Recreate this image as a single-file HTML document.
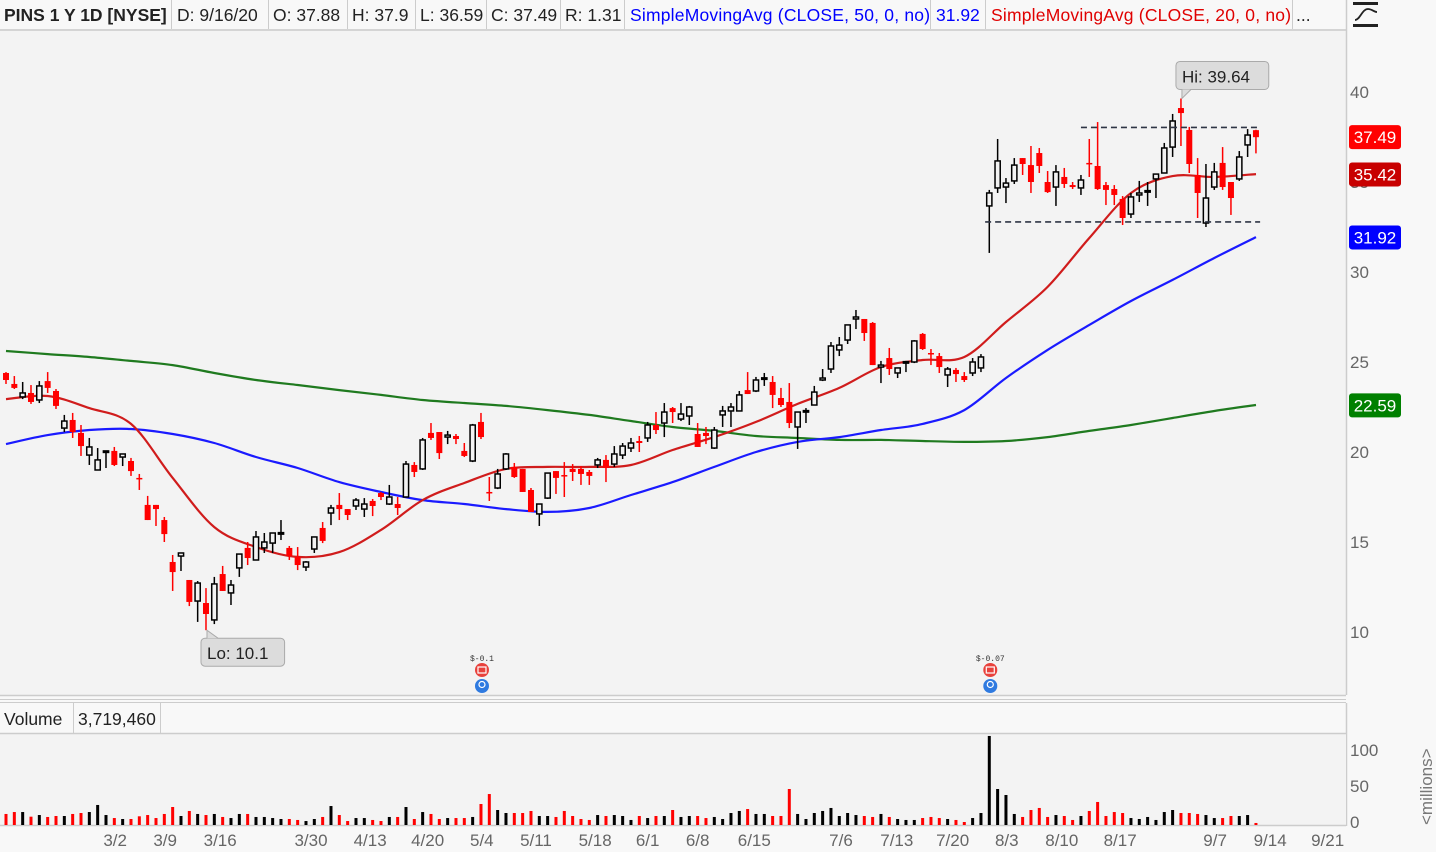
<!DOCTYPE html>
<html><head><meta charset="utf-8">
<style>
html,body{margin:0;padding:0;background:#f8f8f8;}
body{width:1436px;height:852px;overflow:hidden;position:relative;font-family:"Liberation Sans",sans-serif;}
.hd{position:absolute;top:5px;font-size:17.5px;color:#222;white-space:nowrap;}
.sep{position:absolute;top:0;width:1px;height:29px;background:#ccc;}
svg{position:absolute;left:0;top:0;}
</style></head>
<body>
<div style="position:absolute;left:0;top:0;width:1346px;height:29px;background:#f8f8f8;border-bottom:2px solid #d4d4d4;"></div>
<div class="hd" style="left:4px;font-weight:bold;">PINS 1 Y 1D [NYSE]</div>
<div class="sep" style="left:171px"></div>
<div class="hd" style="left:177px;">D: 9/16/20</div>
<div class="sep" style="left:268px"></div>
<div class="hd" style="left:273px;">O: 37.88</div>
<div class="sep" style="left:347px"></div>
<div class="hd" style="left:352px;">H: 37.9</div>
<div class="sep" style="left:415px"></div>
<div class="hd" style="left:420px;">L: 36.59</div>
<div class="sep" style="left:486px"></div>
<div class="hd" style="left:491px;">C: 37.49</div>
<div class="sep" style="left:560px"></div>
<div class="hd" style="left:565px;">R: 1.31</div>
<div class="sep" style="left:624px"></div>
<div class="hd" style="left:630px;color:#0000ff;letter-spacing:0.2px;">SimpleMovingAvg (CLOSE, 50, 0, no)</div>
<div class="sep" style="left:930px"></div>
<div class="hd" style="left:936px;color:#0000ff;">31.92</div>
<div class="sep" style="left:985px"></div>
<div class="hd" style="left:991px;color:#e00000;letter-spacing:0.2px;">SimpleMovingAvg (CLOSE, 20, 0, no)</div>
<div class="sep" style="left:1292px"></div>
<div class="hd" style="left:1296px;">...</div>

<svg id="chart" width="1436" height="852" xmlns="http://www.w3.org/2000/svg">
  <rect x="0" y="31" width="1346" height="664" fill="#f3f3f3"/>
  <line x1="1346.5" y1="0" x2="1346.5" y2="695" stroke="#ccc" stroke-width="1.5"/>
  <line x1="0" y1="695.5" x2="1346" y2="695.5" stroke="#ccc" stroke-width="1.5"/>
  <line x1="0" y1="699.5" x2="1346" y2="699.5" stroke="#ccc" stroke-width="1"/>
  <line x1="0" y1="702.5" x2="1346" y2="702.5" stroke="#ccc" stroke-width="1"/>
  <line x1="1346.5" y1="703" x2="1346.5" y2="826" stroke="#ccc" stroke-width="1.5"/>
  <rect x="0" y="733" width="1346" height="92" fill="#f3f3f3"/>
  <line x1="0" y1="733.5" x2="1346" y2="733.5" stroke="#ccc" stroke-width="1.5"/>
  <line x1="0" y1="825.5" x2="1346" y2="825.5" stroke="#ccc" stroke-width="1.5"/>
  <line x1="73.5" y1="703" x2="73.5" y2="733" stroke="#ccc"/>
  <line x1="160.5" y1="703" x2="160.5" y2="733" stroke="#ccc"/>
  <text x="4" y="725" font-size="17.5" fill="#222">Volume</text>
  <text x="78" y="725" font-size="17.5" fill="#222">3,719,460</text>
  <g>
    <rect x="1353" y="2" width="25" height="3" fill="#222"/>
    <rect x="1353" y="24" width="25" height="3" fill="#222"/>
    <path d="M1355 20 C1360 20,1362 9,1368 9 C1372 9,1374 12,1377 12" stroke="#222" stroke-width="1.8" fill="none"/>
  </g>
  <text x="1432" y="825" font-size="17" fill="#777" transform="rotate(-90 1432 825)">&lt;millions&gt;</text>
  <g id="axes"></g>
  <g id="ma"></g>
  <g id="candles"></g>
  <g id="vol"></g>
  <g id="overlay"></g>
  <rect x="1348" y="829" width="60" height="23" fill="#f8f8f8"/>
</svg>
<script>
const opens=[24.39,23.78,23.06,23.28,22.89,23.94,23.39,21.33,21.78,21.06,
19.83,19.0,20.0,20.06,19.72,19.5,18.56,17.06,17.06,16.22,
13.89,14.22,12.89,11.72,11.61,10.67,13.22,12.17,13.56,14.67,
14.0,14.67,14.94,15.5,14.67,14.17,13.61,14.61,15.78,16.61,
17.06,16.83,17.0,16.83,17.28,17.72,17.11,17.11,17.5,19.28,
19.06,21.06,21.11,20.83,20.89,20.06,19.5,21.67,17.78,18.0,
19.06,19.17,19.06,17.89,16.56,17.44,18.94,18.72,19.06,19.06,
18.89,19.28,19.56,19.33,19.83,20.22,20.61,20.78,21.5,21.61,
22.44,21.83,22.0,21.0,21.06,20.22,22.06,22.28,22.28,23.44,
23.39,24.11,23.89,23.0,22.78,21.39,22.28,22.61,24.0,24.61,
25.67,26.22,27.39,27.39,27.17,24.72,25.22,24.39,25.0,25.0,
26.56,25.5,25.33,24.28,24.56,24.22,24.39,24.67,33.67,34.67,
34.72,35.06,36.33,35.94,36.61,35.0,34.72,35.28,34.83,34.67,
36.06,35.89,34.83,34.61,34.06,33.22,34.28,34.5,35.17,35.5,
36.94,39.11,37.89,35.39,32.72,34.72,36.06,35.0,35.17,37.06,37.88];
const highs=[24.44,24.22,23.89,23.72,23.94,24.44,23.5,22.06,22.17,21.5,
20.78,20.22,20.06,20.28,19.89,19.67,18.78,17.56,17.06,16.39,
14.28,14.39,12.89,12.83,12.44,13.06,13.67,12.89,14.33,15.0,
15.61,15.5,15.5,16.22,14.78,14.72,13.94,15.28,16.11,17.06,
17.72,16.83,17.44,17.44,17.39,17.78,18.17,17.5,19.5,19.44,
20.78,21.61,21.11,21.17,21.0,20.5,21.56,22.17,18.61,19.06,
19.94,19.39,19.06,18.0,17.11,18.83,18.94,19.44,19.33,19.22,
19.0,19.67,19.83,20.33,20.5,20.78,20.89,21.67,22.22,22.72,
22.5,22.72,22.56,21.61,21.39,21.39,22.56,22.72,23.39,24.44,
24.17,24.39,24.22,23.56,23.83,22.22,22.44,23.67,24.61,26.11,
26.39,27.06,27.89,27.39,27.22,25.06,25.78,24.67,25.06,26.22,
26.61,25.72,25.5,24.72,24.67,24.44,25.22,25.44,34.56,37.39,
35.22,36.33,36.33,37.0,36.89,35.61,35.94,35.78,35.0,35.39,
37.39,38.33,35.0,34.83,34.22,34.39,35.06,35.0,35.44,37.17,
38.78,39.64,38.06,36.33,36.0,36.06,36.94,35.0,36.72,37.94,37.9];
const lows=[23.78,23.5,22.94,22.67,22.72,23.28,22.39,21.11,20.78,19.78,
19.28,19.0,19.11,19.22,19.22,18.67,17.89,16.22,15.89,15.0,
12.28,13.39,11.44,10.56,10.1,10.44,12.28,11.5,13.06,13.72,
14.0,14.39,14.39,15.11,14.0,13.44,13.39,14.39,14.94,15.94,
16.22,16.22,16.78,16.39,16.44,17.33,17.06,16.5,17.5,18.61,
19.0,20.67,19.61,20.44,20.44,19.72,19.44,20.72,17.28,17.94,
19.0,18.56,17.78,16.67,15.89,17.39,17.67,17.5,18.39,18.17,
18.17,19.11,18.33,19.17,19.61,20.0,20.0,20.56,21.0,20.83,
21.61,21.72,21.5,20.28,20.44,20.17,21.39,21.39,22.28,23.22,
23.33,23.67,22.44,22.5,21.33,20.17,21.61,22.61,23.94,24.39,
25.33,26.0,26.83,26.17,24.83,23.83,24.28,24.11,24.44,24.94,
25.67,24.83,24.39,23.61,23.89,23.89,24.22,24.44,31.06,34.39,
33.83,34.89,35.39,34.39,35.5,34.39,33.67,34.67,34.61,34.28,
35.28,34.56,33.72,33.72,32.61,33.0,33.89,33.67,34.11,35.5,
36.39,37.0,35.5,33.0,32.5,34.56,34.56,33.17,35.06,36.39,36.59];
const closes=[24.0,23.56,23.28,22.78,23.67,23.56,22.56,21.72,21.11,20.33,
20.28,19.56,20.06,19.28,19.89,18.94,18.55,16.22,16.83,15.44,
13.33,14.39,11.67,12.72,11.0,12.67,12.28,12.61,14.33,14.11,
15.28,15.0,15.5,15.52,14.22,13.72,13.89,15.28,15.06,16.89,
16.83,16.5,17.33,17.11,17.0,17.5,17.5,16.89,19.33,18.89,
20.67,20.78,19.94,20.94,20.72,19.78,21.5,20.83,17.72,18.78,
19.89,18.61,17.78,16.67,17.11,18.83,18.56,18.7,18.89,18.78,
18.67,19.56,19.11,19.89,20.33,20.5,20.5,21.5,21.22,22.22,
22.22,22.11,22.5,20.28,20.89,21.22,22.28,22.5,23.17,23.22,
24.0,24.12,23.17,22.61,21.61,22.22,22.3,23.33,24.11,25.89,
25.94,27.06,27.5,26.61,24.83,24.83,24.61,24.67,25.02,26.17,
25.72,25.44,24.72,24.61,24.33,24.0,25.0,25.28,34.39,36.17,
34.94,35.94,36.0,35.0,35.89,34.44,35.56,34.89,34.72,35.11,
36.05,34.61,34.56,34.28,33.0,34.17,34.39,34.52,35.44,36.89,
38.39,38.83,36.0,34.39,34.11,35.56,34.72,34.11,36.39,37.61,37.49];
const volumes=[14.7,17.3,17.3,11.1,13.3,10.7,12,12,14.7,16,
17.3,26.7,13.3,9.3,8,8,11.6,13.3,9.3,14.7,
24,12,18.7,14.7,13.3,14.7,10.7,9.3,14.7,14.7,
10.7,10.7,9.3,8,8,6.7,5.3,8,10.7,25.3,
13.3,5.3,9.3,9.3,6.7,5.3,10.7,10.7,24,8,
17.3,14.7,8,9.3,9.3,9.3,10.7,28,41.3,20,
16,16,16,18.7,12,12,10.7,18.7,12,8,
6.7,13.3,12,13.3,12,6.7,12,9.3,12,12,
20,10.7,12,12,9.3,10.7,
8,16,18.7,21.3,14.7,14.7,12,12,48,14.7,
8,16,18.7,22.7,12,16,13.3,12,10.7,14.7,
10.7,8,6.7,6.7,9.3,10.7,9.3,8,6.7,4,
9.3,16,118.7,48,40,14.7,10.7,20,22.7,10.7,
13.3,12,6.7,12,18.7,30.7,12,17.3,16,9.3,
8,10.7,6.7,17.3,20,16,16,14.7,13.3,9.3,
9.3,12,12,13.3,2.7];
// moving averages sampled every 5th bar (index 0,5,...,150)
const maStep=5;
const sma20=[22.94,23.11,22.44,21.56,18.56,15.83,14.72,14.17,14.44,15.67,17.33,18.28,19.06,19.17,19.17,19.28,20.11,20.83,21.67,22.67,23.56,24.72,25.11,25.28,27.22,29.17,31.89,34.39,35.33,35.28,35.44];
const sma50=[20.44,20.94,21.22,21.28,21.0,20.5,19.72,19.11,18.33,17.78,17.33,17.11,16.83,16.67,16.89,17.61,18.33,19.17,20.0,20.56,20.83,21.22,21.56,22.33,24.11,25.67,27.06,28.39,29.56,30.78,31.94];
const sma200=[25.61,25.44,25.28,25.06,24.83,24.39,24.0,23.72,23.44,23.17,22.89,22.72,22.56,22.33,22.06,21.72,21.39,21.17,20.89,20.78,20.67,20.67,20.61,20.56,20.61,20.83,21.17,21.5,21.89,22.28,22.61];
const priceTicks=[40,35,30,25,20,15,10];
const volTicks=[100,50,0];
const dateLabels=["3/2","3/9","3/16","3/30","4/13","4/20","5/4","5/11","5/18","6/1","6/8","6/15","7/6","7/13","7/20","8/3","8/10","8/17","9/7","9/14","9/21"];
const dateIdx=[13.1,19.1,25.7,36.6,43.7,50.6,57.1,63.6,70.7,77.0,83.0,89.8,100.2,106.9,113.6,120.1,126.7,133.7,145.1,151.7,158.6];
const hiIdx=141, loIdx=24;
const resistance=38.03, support=32.78, resStart=129, supStart=117.5, lineEnd=150.5;
const earningsIdx=[57,118], earningsText=["$-0.1","$-0.07"];
const lastTags=[[37.49,"#ff0000"],[35.42,"#c80000"],[31.92,"#0000ff"],[22.59,"#008000"]];

const NS="http://www.w3.org/2000/svg";
const X=i=>6+i*8.333;
const Y=p=>92+(40-p)*18;
const VY=v=>825-v*0.72-3;
function mk(tag,attrs,parent){const e=document.createElementNS(NS,tag);for(const k in attrs)e.setAttribute(k,attrs[k]);parent.appendChild(e);return e;}
const axes=document.getElementById('axes'),maG=document.getElementById('ma'),cG=document.getElementById('candles'),vG=document.getElementById('vol'),ov=document.getElementById('overlay');

priceTicks.forEach(t=>{const e=mk('text',{x:1350,y:Y(t)+6,'font-size':17,fill:'#666'},axes);e.textContent=t;

});
volTicks.forEach(t=>{const e=mk('text',{x:1350,y:VY(t)+6,'font-size':17,fill:'#666'},axes);e.textContent=t;

});
dateLabels.forEach((d,k)=>{const e=mk('text',{x:X(dateIdx[k]),y:846,'font-size':17,fill:'#666','text-anchor':'middle'},axes);e.textContent=d;

});

function maLine(arr,color,name){
  const P=arr.map((v,k)=>[X(k*maStep),Y(v)]);
  let d=`M${P[0][0].toFixed(1)} ${P[0][1].toFixed(1)}`;
  for(let k=0;k<P.length-1;k++){
    const p0=P[Math.max(k-1,0)],p1=P[k],p2=P[k+1],p3=P[Math.min(k+2,P.length-1)];
    const c1=[p1[0]+(p2[0]-p0[0])/6,p1[1]+(p2[1]-p0[1])/6],c2=[p2[0]-(p3[0]-p1[0])/6,p2[1]-(p3[1]-p1[1])/6];
    d+=` C${c1[0].toFixed(1)} ${c1[1].toFixed(1)},${c2[0].toFixed(1)} ${c2[1].toFixed(1)},${p2[0].toFixed(1)} ${p2[1].toFixed(1)}`;
  }
  const e=mk('path',{d:d,fill:'none',stroke:color,'stroke-width':2.2,'stroke-linejoin':'round'},maG);
  
  }
maLine(sma200,'#1f7a1f','sma200-line');
maLine(sma50,'#1a1aff','sma50-line');
maLine(sma20,'#d01c1c','sma20-line');

const r1=mk('line',{x1:X(resStart),x2:X(lineEnd),y1:Y(resistance),y2:Y(resistance),stroke:'#2e3444','stroke-width':1.6,'stroke-dasharray':'6,4'},ov);


const r2=mk('line',{x1:X(supStart),x2:X(lineEnd),y1:Y(support),y2:Y(support),stroke:'#2e3444','stroke-width':1.6,'stroke-dasharray':'6,4'},ov);



for(let i=0;i<opens.length;i++){
  const x=X(i),o=opens[i],c=closes[i],down=c<o;
  const col=down?'#ff0000':'#000';
  const g=mk('g',{},cG);
  
  
  mk('line',{x1:x,x2:x,y1:Y(highs[i]),y2:Y(lows[i]),stroke:col,'stroke-width':1.5},g);
  const top=Y(Math.max(o,c)),bh=Math.max(Math.abs(Y(o)-Y(c)),1.5);
  if(down) mk('rect',{x:x-3,y:top,width:6,height:bh,fill:'#ff0000'},g);
  else mk('rect',{x:x-2.6,y:top,width:5.2,height:bh,fill:'#f3f3f3',stroke:'#000','stroke-width':1.5},g);
  const vb=mk('rect',{x:x-1.5,y:825-volumes[i]*0.75,width:3,height:volumes[i]*0.75,fill:down?'#ff0000':'#000'},vG);
  
  
}

function callout(idx,price,label,above,name){
  const px=X(idx),py=Y(price);
  const g=mk('g',{},ov);
  
  
  const w=label.length*9.2+10,bx=px-5,by=above?py-37:py+8;
  mk('rect',{x:bx,y:by,width:w,height:28,rx:4,fill:'#dcdcdc',stroke:'#aaa'},g);
  const t=mk('text',{x:bx+6,y:by+21,'font-size':17,fill:'#222'},g);t.textContent=label;
  if(above) mk('path',{d:`M${px+1} ${by+28} L${px+1} ${py} L${px+10} ${by+28}`,fill:'#dcdcdc',stroke:'#aaa'},g);
  else mk('path',{d:`M${px+1} ${by} L${px+1} ${py} L${px+12} ${by}`,fill:'#dcdcdc',stroke:'#aaa'},g);
}
callout(hiIdx,highs[hiIdx],'Hi: '+highs[hiIdx],true,'high-callout');
callout(loIdx,lows[loIdx],'Lo: '+lows[loIdx],false,'low-callout');

earningsIdx.forEach((idx,k)=>{const x=X(idx)+1;
  const g=mk('g',{},ov);
  
  
  const t=mk('text',{x:x,y:661,'font-size':8,fill:'#333','text-anchor':'middle','font-family':'Liberation Mono, monospace'},g);t.textContent=earningsText[k];
  mk('circle',{cx:x,cy:670,r:7,fill:'#e8413c'},g);
  mk('rect',{x:x-4,y:667,width:8,height:6,fill:'none',stroke:'#fff','stroke-width':1.2},g);
  mk('circle',{cx:x,cy:686,r:7,fill:'#2f7ae0'},g);
  mk('circle',{cx:x,cy:684.5,r:3,fill:'none',stroke:'#fff','stroke-width':1.2},g);
});

lastTags.forEach(([v,col])=>{const y=Y(v);
  const g=mk('g',{},ov);
  
  
  mk('rect',{x:1349,y:y-12,width:52,height:24,rx:3,fill:col},g);
  const t=mk('text',{x:1375,y:y+6,'font-size':17,fill:'#fff','text-anchor':'middle'},g);t.textContent=v.toFixed(2);
});
</script>
</body></html>
